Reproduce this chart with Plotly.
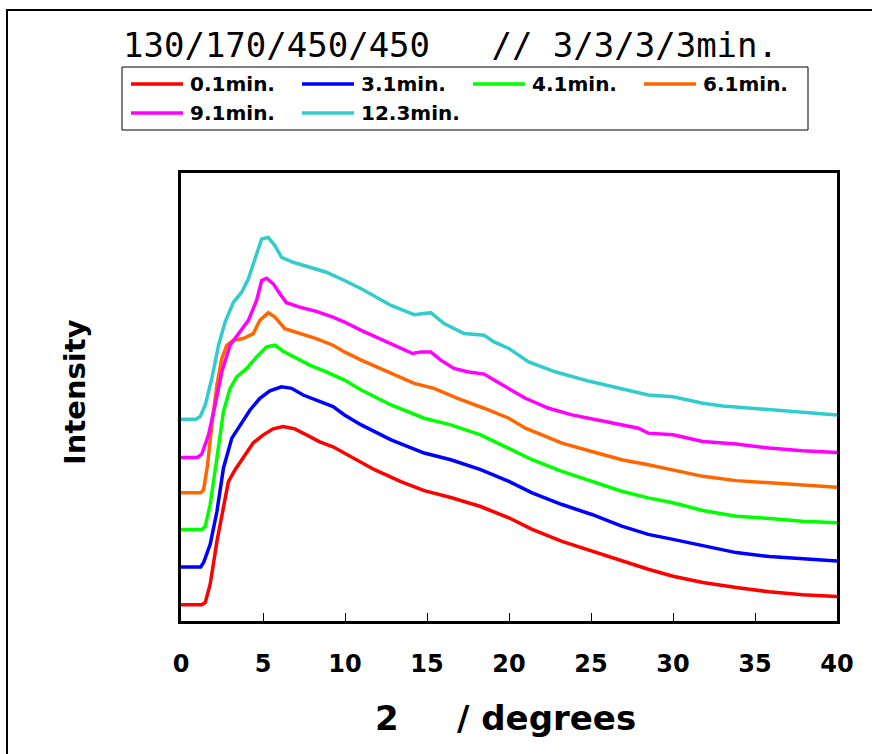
import plotly.graph_objects as go

# ---------------- data (2theta in degrees, intensity in arbitrary offset units) -------------
series_names = ["0.1min.", "3.1min.", "4.1min.", "6.1min.", "9.1min.", "12.3min."]
series_colors = ["#FF0000", "#0000FF", "#00FF00", "#FF6600", "#FF00FF", "#33CCCC"]

x_red = [0, 1.27, 1.48, 1.78, 2.19, 2.59, 2.89, 3.30, 3.80, 4.41, 5.02, 5.62, 6.23, 6.94, 7.65, 8.46,
         9.27, 9.97, 10.99, 11.80, 13.41, 14.83, 16.45, 18.27, 19.99, 21.41, 23.23, 25.05, 26.87,
         28.49, 30.00, 31.82, 33.85, 35.87, 37.89, 40.0]
y_red = [16.3, 16.3, 18.7, 37, 80, 117, 140, 152, 164, 179, 187, 193, 195.3, 193, 187, 180,
         175, 168.7, 160, 152, 140, 131, 124, 115, 103.7, 92, 80, 70, 60,
         52, 45, 38.7, 33.7, 29.3, 26.3, 24.5]

x_blue = [0, 1.2, 1.38, 1.78, 2.19, 2.59, 3.10, 3.60, 4.21, 4.81, 5.42, 6.13, 6.74, 7.45, 8.25, 9.27,
          9.97, 10.99, 12.81, 14.83, 16.45, 18.27, 19.99, 21.41, 23.23, 25.05, 26.87, 28.49, 30.0,
          31.82, 33.85, 35.87, 37.89, 40]
y_blue = [54.3, 54.3, 58.7, 77, 110, 153.7, 183.7, 197, 212, 223.7, 231.3, 235.3, 233.7, 227, 222, 215.3,
          207, 197, 182, 168.7, 162, 152, 140.3, 128.7, 117, 107, 95.3, 87, 82,
          75.3, 68.7, 64.7, 62.7, 60.3]

x_green = [0, 1.3, 1.48, 1.78, 2.19, 2.59, 2.99, 3.40, 4.01, 4.61, 5.22, 5.73, 6.23, 7.04, 7.85, 8.86,
           9.97, 10.99, 12.81, 14.83, 16.45, 18.27, 19.99, 21.41, 23.23, 25.05, 26.87, 28.49, 30.0,
           31.82, 33.85, 35.87, 37.89, 40]
y_green = [92, 92, 95.3, 117, 163.7, 210.3, 233.7, 245.3, 253.7, 265.3, 275.3, 277, 271, 263.7, 257, 250.3,
           242, 232, 217, 203.7, 197, 187, 173.7, 162, 150.3, 140.3, 130.3, 123.7, 118.7,
           111, 105.3, 103, 100.3, 98.7]

x_orange = [0, 1.2, 1.38, 1.62, 1.88, 2.19, 2.49, 2.79, 3.20, 3.80, 4.41, 4.81, 5.32, 5.73, 6.33, 7.24,
            8.25, 9.27, 9.97, 10.99, 12.81, 14.22, 15.43, 16.86, 18.48, 19.99, 21.0, 23.23, 25.05,
            26.87, 28.49, 30.0, 31.82, 33.85, 35.87, 37.89, 40]
y_orange = [128.7, 128.7, 132, 157, 197, 237, 263.7, 277, 282, 283.7, 288.7, 302, 309.7, 305.3, 293.7, 288.7,
            283.7, 277, 270.3, 262, 248.7, 238.7, 233.7, 223.7, 213.7, 203.7, 193.7, 178.7, 170.3,
            162, 157, 152, 145.3, 141, 138.7, 136, 134.3]

x_magenta = [0, 1.0, 1.27, 1.68, 2.08, 2.49, 2.99, 3.50, 4.11, 4.61, 4.92, 5.22, 5.63, 6.03, 6.43, 7.24,
             8.25, 9.27, 9.97, 10.99, 12.81, 14.12, 14.63, 15.23, 15.84, 16.65, 17.46, 18.48, 19.09,
             19.99, 21.0, 22.42, 23.84, 25.86, 27.89, 28.49, 30.0, 31.82, 33.85, 35.87, 37.89, 40]
y_magenta = [164.3, 164.3, 167.7, 187, 217, 250.3, 277, 288.7, 302, 322, 342, 344.3, 338.7, 328.7, 319.7, 315.3,
             311, 305.3, 300.3, 292, 278.7, 268.7, 270.3, 270.3, 262, 253.7, 250.3, 248, 242,
             233.7, 223.7, 213.7, 207, 200.3, 193.7, 188.7, 187, 180.3, 177.7, 173.7, 171, 169.3]

x_cyan = [0, 0.9, 1.17, 1.48, 1.88, 2.29, 2.69, 3.20, 3.70, 4.11, 4.51, 4.92, 5.32, 5.73, 6.13, 6.84,
          7.85, 8.86, 9.97, 10.99, 12.81, 14.22, 15.23, 16.04, 17.26, 18.48, 19.09, 19.99, 21.2,
          22.82, 24.84, 26.87, 28.49, 30.0, 31.82, 33.03, 34.85, 36.88, 40]
y_cyan = [202.7, 202.7, 205.3, 217, 243.7, 277, 300.3, 320.3, 330.3, 343.7, 363.7, 383.7, 385.3, 377, 365.3, 360.3,
          355.3, 350.3, 342, 333.7, 317, 307.7, 309.7, 298.7, 288.7, 287, 280.3, 273.7, 260.3,
          250.3, 241, 233.7, 227, 225.3, 218.7, 216, 213.7, 211, 207]

x_tick_vals = [0, 5, 10, 15, 20, 25, 30, 35, 40]
x_tick_text = ["0", "5", "10", "15", "20", "25", "30", "35", "40"]

title_text = "130/170/450/450   // 3/3/3/3min."
x_title_lead = "2"
x_title_rest = "/ degrees"
y_title_text = "Intensity"

xs = [x_red, x_blue, x_green, x_orange, x_magenta, x_cyan]
ys = [y_red, y_blue, y_green, y_orange, y_magenta, y_cyan]

# ---------------- layout geometry (pixels) ----------------
W_PX, H_PX = 872, 754
L, R, T, B = 181, 837, 173, 621


def px(x):
    return (x - L) / (R - L)


def py(y):
    return (B - y) / (B - T)


fig = go.Figure()
for name, color, xv, yv in zip(series_names, series_colors, xs, ys):
    fig.add_trace(go.Scatter(x=xv, y=yv, mode="lines", name=name,
                             line=dict(color=color, width=3.5), showlegend=False))

BOLD = "DejaVu Sans"

shapes = []
annotations = []

# outer frame (top and left edges)
shapes.append(dict(type="line", xref="paper", yref="paper", x0=px(6), y0=py(10), x1=px(880), y1=py(10),
                   line=dict(color="black", width=2)))
shapes.append(dict(type="line", xref="paper", yref="paper", x0=px(7), y0=py(10), x1=px(7), y1=py(760),
                   line=dict(color="black", width=2)))

# legend box (drawn manually)
shapes.append(dict(type="rect", xref="paper", yref="paper", x0=px(122), y0=py(67), x1=px(808), y1=py(130),
                   line=dict(color="black", width=1), fillcolor="white"))
col_x = [131, 302, 473, 644]
row_y = [84, 113]
for i, (name, color) in enumerate(zip(series_names, series_colors)):
    cx = col_x[i % 4]
    ry = row_y[i // 4]
    shapes.append(dict(type="line", xref="paper", yref="paper", x0=px(cx), y0=py(ry), x1=px(cx + 52), y1=py(ry),
                       line=dict(color=color, width=3.5)))
    annotations.append(dict(xref="paper", yref="paper", x=px(cx + 57), y=py(ry), text=name, showarrow=False,
                            xanchor="left", yanchor="middle",
                            font=dict(family=BOLD, size=20, color="black", weight="bold")))

# title
annotations.append(dict(xref="paper", yref="paper", x=px(121), y=py(45), text=title_text, showarrow=False,
                        xanchor="left", yanchor="middle",
                        font=dict(family="DejaVu Sans Mono", size=34, color="black")))
# axis titles
annotations.append(dict(xref="paper", yref="paper", x=px(387), y=py(718), text=x_title_lead, showarrow=False,
                        xanchor="center", yanchor="middle",
                        font=dict(family=BOLD, size=34, color="black", weight="bold")))
annotations.append(dict(xref="paper", yref="paper", x=px(455), y=py(718), text=x_title_rest, showarrow=False,
                        xanchor="left", yanchor="middle",
                        font=dict(family=BOLD, size=34, color="black", weight="bold")))
annotations.append(dict(xref="paper", yref="paper", x=px(75), y=py(392), text=y_title_text, showarrow=False,
                        xanchor="center", yanchor="middle", textangle=-90,
                        font=dict(family=BOLD, size=29, color="black", weight="bold")))

fig.update_layout(
    width=W_PX, height=H_PX,
    margin=dict(l=L, r=W_PX - R, t=T, b=H_PX - B, autoexpand=False),
    paper_bgcolor="white", plot_bgcolor="white",
    showlegend=False,
    shapes=shapes, annotations=annotations,
    xaxis=dict(range=[0, 40], tickvals=x_tick_vals, ticktext=x_tick_text,
               ticks="inside", ticklen=8, tickwidth=1, tickcolor="black",
               showline=True, linewidth=3, linecolor="black", mirror=True,
               showgrid=False, zeroline=False, ticklabelstandoff=19,
               tickfont=dict(family=BOLD, size=24, color="black", weight="bold")),
    yaxis=dict(range=[0, 450], showticklabels=False, ticks="",
               showline=True, linewidth=3, linecolor="black", mirror=True,
               showgrid=False, zeroline=False),
)

fig.write_html("out.html", config={"displayModeBar": False},
               post_script="document.body.style.margin='0px';")
